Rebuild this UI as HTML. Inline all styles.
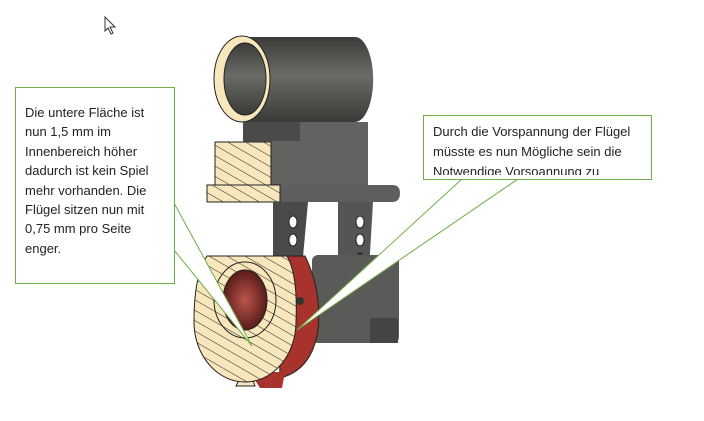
<!DOCTYPE html>
<html><head><meta charset="utf-8"><style>
body{margin:0;width:704px;height:421px;background:#fff;overflow:hidden;position:relative;font-family:"Liberation Sans",sans-serif}
svg{position:absolute;left:0;top:0}
.box{position:absolute;background:#fff;border:1px solid #70ad47;box-sizing:border-box;font-family:"Liberation Sans",sans-serif;font-size:13px;color:#222;overflow:hidden}
</style></head><body>
<svg width="704" height="421" viewBox="0 0 704 421">
<defs>
<pattern id="h" width="9" height="9" patternUnits="userSpaceOnUse" patternTransform="rotate(30)">
<rect width="9" height="9" fill="#f8e6bc"/><line x1="0" y1="0" x2="9" y2="0" stroke="#222" stroke-width="1"/></pattern>
<linearGradient id="cyl" x1="0" y1="0" x2="0" y2="1"><stop offset="0" stop-color="#3c3c3a"/><stop offset=".45" stop-color="#6a6a66"/><stop offset="1" stop-color="#3a3a38"/></linearGradient>
<radialGradient id="red"><stop offset="0" stop-color="#b9554c"/><stop offset="1" stop-color="#5a1c18"/></radialGradient>
</defs>
<path d="M105 17 L105 31 L108 28 L111 34 L113 33 L110 27 L115 27 Z" fill="#fff" stroke="#333" stroke-width="1"/>
<path d="M242 37 H355 A18 42 0 0 1 355 122 H242 Z" fill="url(#cyl)"/>
<ellipse cx="242" cy="79" rx="28" ry="43" fill="#f8e6bc" stroke="#222"/>
<ellipse cx="245" cy="79" rx="21" ry="36" fill="url(#cyl)" stroke="#222"/>
<rect x="243" y="122" width="125" height="63" fill="#626260"/>
<rect x="243" y="122" width="57" height="19" fill="#4a4a48"/>
<rect x="215" y="142" width="56" height="43" fill="url(#h)" stroke="#222"/>
<path d="M207 185 H392 Q400 185 400 193 Q400 202 392 202 H207 Z" fill="#5e5e5c"/>
<rect x="207" y="185" width="73" height="17" fill="url(#h)" stroke="#222"/>
<path d="M273 202 H308 L303 257 H273 Z" fill="#4a4a48"/>
<path d="M338 202 H373 L368 287 H338 Z" fill="#555553"/>
<g fill="#fff" stroke="#222"><ellipse cx="293" cy="222" rx="4" ry="6"/><ellipse cx="293" cy="240" rx="4" ry="6"/><ellipse cx="360" cy="222" rx="4" ry="6"/><ellipse cx="360" cy="240" rx="4" ry="6"/></g>
<ellipse cx="360" cy="258" rx="4" ry="6" fill="#333"/>
<rect x="312" y="255" width="87" height="88" rx="6" fill="#5a5a58"/>
<rect x="370" y="318" width="28" height="25" fill="#444442"/>
<path d="M277 256 H305 Q322 290 318 330 Q312 370 280 378 Z" fill="#a8332c" stroke="#222"/>
<path d="M250 372 L260 388 H282 L285 372 Z" fill="#a8332c"/>
<circle cx="300" cy="301" r="4" fill="#333"/>
<path d="M243 372 L236 386 H255 L250 372 Z" fill="#f8e6bc" stroke="#222"/>
<path d="M207 256 H287 Q298 275 296 322 A51 60 0 0 1 194 322 Q194 275 207 256 Z" fill="url(#h)" stroke="#222"/>
<ellipse cx="245" cy="300" rx="31" ry="38" fill="none" stroke="#222"/>
<ellipse cx="245" cy="300" rx="22" ry="30" fill="url(#red)" stroke="#222"/>
<polygon points="174,203 252,346 174,250" fill="#fff" stroke="#70ad47"/>
<polygon points="462,179 297,330 518,179" fill="#fff" stroke="#70ad47"/>
</svg>
<div class="box" style="left:15px;top:87px;width:160px;height:197px;padding:15px 8px 0 9px;line-height:19.4px">Die untere Fläche ist nun 1,5 mm im Innenbereich höher dadurch ist kein Spiel mehr vorhanden. Die Flügel sitzen nun mit 0,75 mm pro Seite enger.</div>
<div class="box" style="left:423px;top:115px;width:229px;height:65px;padding:6px 6px 0 9px;line-height:20px"><div style="height:53px;overflow:hidden">Durch die Vorspannung der Flügel müsste es nun Mögliche sein die Notwendige Vorsoannung zu</div></div>
</body></html>
